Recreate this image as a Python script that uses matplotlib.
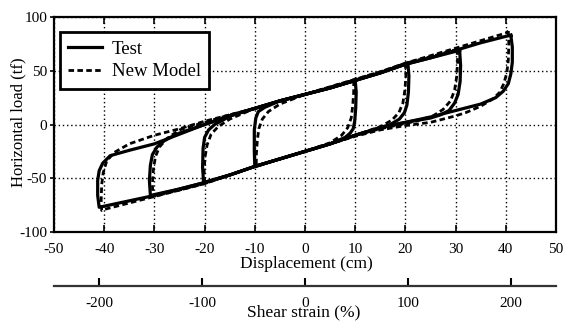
import matplotlib.pyplot as plt

plt.rcParams['font.family'] = ['Liberation Serif', 'DejaVu Serif']
plt.rcParams['axes.unicode_minus'] = False

# Test loops, displacement (cm) and horizontal load (tf), one pair per cycle
test_10_x = [10.0, 10.2, 10.1, 9.9, 9.6, 9.0, 8.0, 5.0, 0.0, -5.0, -10.0, -10.1, -10.1, -9.8, -9.3, -8.0, -5.0, 0.0, 5.0, 10.0]
test_10_y = [41, 30, 15, 3, -4, -8, -12, -18, -25, -32, -39, -25, -5, 6, 12, 16, 22, 28, 34, 41]

test_20_x = [20.5, 20.7, 20.6, 20.3, 19.8, 18.8, 17.0, 15.0, 10.0, 5.0, 0.0, -5.0, -10.0, -15.0, -20.2, -20.4, -20.3,
             -20.0, -19.2, -18.0, -16.0, -15.0, -10.0, -5.0, 0.0, 5.0, 10.0, 15.0, 20.5]
test_20_y = [57, 45, 30, 18, 11, 5, 0, -3, -10, -18, -25, -32, -39, -47, -54, -40, -22,
             -12, -5, 0, 5, 8, 15, 22, 28, 34, 41, 48, 57]

test_30_x = [30.8, 31.0, 30.9, 30.5, 29.8, 28.7, 27.0, 25.0, 20.0, 15.0, 10.0, 5.0, 0.0, -5.0, -10.0, -15.0, -20.0, -25.0,
             -30.8, -31.0, -30.8, -30.4, -29.5, -28.0, -26.0, -25.0, -20.0, -15.0, -10.0, -5.0, 0.0, 5.0, 10.0, 15.0, 20.0, 25.0, 30.8]
test_30_y = [69, 55, 40, 28, 20, 13, 9, 6, 2, -3, -10, -18, -25, -32, -39, -47, -54, -60,
             -66, -52, -38, -28, -21, -15, -10, -8, 0, 8, 15, 22, 28, 34, 41, 48, 56, 62, 69]

test_40_x = [41.0, 41.3, 41.3, 41.0, 40.5, 39.5, 38.0, 35.0, 30.0, 25.0, 20.0, 15.0, 10.0, 5.0, 0.0, -5.0, -10.0, -15.0,
             -20.0, -25.0, -30.0, -35.0, -40.0, -41.0, -41.3, -41.3, -41.0, -40.3, -38.8, -35.0, -30.0, -25.0, -20.0,
             -15.0, -10.0, -5.0, 0.0, 5.0, 10.0, 15.0, 20.0, 25.0, 30.0, 35.0, 40.0, 41.0]
test_40_y = [83, 72, 58, 47, 38, 31, 25, 19, 13, 7, 2, -3, -10, -18, -25, -32, -39, -47,
             -54, -60, -66, -71, -76, -77, -66, -52, -43, -36, -29, -24, -18, -9, 0,
             8, 15, 22, 28, 34, 41, 48, 56, 62, 69, 76, 82, 83]

# New model loops
model_10_x = [9.7, 9.7, 9.5, 9.2, 8.5, 7.3, 5.0, 0.0, -5.0, -9.7, -9.7, -9.5, -9.2, -8.5, -7.3, -5.0, 0.0, 5.0, 9.7]
model_10_y = [41, 30, 17, 6, -3, -10, -17, -25, -32, -39, -28, -15, -4, 5, 12, 19, 28, 34, 41]

model_20_x = [20.0, 20.1, 19.9, 19.5, 18.7, 17.3, 15.0, 10.0, 5.0, 0.0, -5.0, -10.0, -15.0, -20.0, -20.1, -19.9,
              -19.5, -18.7, -17.3, -15.0, -10.0, -5.0, 0.0, 5.0, 10.0, 15.0, 20.0]
model_20_y = [57, 45, 32, 20, 11, 4, -2, -10, -18, -25, -32, -39, -47, -54, -43, -30,
              -19, -9, -2, 5, 15, 22, 28, 34, 41, 48, 57]

model_30_x = [30.3, 30.4, 30.2, 29.8, 29.0, 27.5, 25.5, 22.0, 20.0, 15.0, 10.0, 5.0, 0.0, -5.0, -10.0, -15.0, -20.0, -25.0,
              -30.3, -30.4, -30.2, -29.8, -29.0, -27.5, -25.0, -20.0, -15.0, -10.0, -5.0, 0.0, 5.0, 10.0, 15.0, 20.0, 25.0, 30.3]
model_30_y = [70, 58, 44, 32, 22, 14, 8, 3, 1, -4, -10, -18, -25, -32, -39, -47, -55, -61,
              -67, -55, -42, -30, -21, -13, -5, 2, 9, 15, 22, 28, 35, 42, 49, 57, 63, 70]

model_40_x = [40.5, 40.6, 40.5, 40.2, 39.6, 38.8, 37.5, 35.0, 32.0, 30.0, 25.0, 20.0, 15.0, 10.0, 5.0, 0.0, -5.0, -10.0,
              -15.0, -20.0, -25.0, -30.0, -35.0, -40.0, -40.5, -40.6, -40.5, -40.2, -39.5, -38.0, -35.0, -30.0, -25.0,
              -20.0, -15.0, -10.0, -5.0, 0.0, 5.0, 10.0, 15.0, 20.0, 25.0, 30.0, 35.0, 40.0, 40.5]
model_40_y = [87, 75, 60, 48, 38, 30, 24, 17, 11, 8, 2, -1, -5, -11, -18, -25, -32, -39,
              -47, -55, -61, -67, -73, -79, -80, -70, -56, -45, -34, -26, -18, -10, -4,
              3, 9, 15, 22, 28, 35, 42, 49, 57, 64, 71, 78, 85, 87]

x_ticks = [-50, -40, -30, -20, -10, 0, 10, 20, 30, 40, 50]
y_ticks = [-100, -50, 0, 50, 100]
strain_ticks = [-200, -100, 0, 100, 200]
rubber_height = 20.5  # cm of rubber = 100 % shear strain

test_loops = [(test_10_x, test_10_y), (test_20_x, test_20_y), (test_30_x, test_30_y), (test_40_x, test_40_y)]
model_loops = [(model_10_x, model_10_y), (model_20_x, model_20_y), (model_30_x, model_30_y), (model_40_x, model_40_y)]

fig = plt.figure(figsize=(5.64, 3.22), dpi=100)
ax = fig.add_axes([54 / 564, 1 - 232 / 322, 502 / 564, 215 / 322])

for i, (x, y) in enumerate(test_loops):
    ax.plot(x, y, color='black', lw=2.3, solid_joinstyle='round', label='Test' if i == 0 else None, zorder=3)
for i, (x, y) in enumerate(model_loops):
    ax.plot(x, y, color='black', lw=2.0, ls=(0, (2.0, 1.2)), label='New Model' if i == 0 else None, zorder=4)

ax.set_xlim(-50, 50)
ax.set_ylim(-100, 100)
ax.set_xticks(x_ticks)
ax.set_yticks(y_ticks)
ax.grid(True, color='black', ls=(0, (1, 2)), lw=1.0)
for s in ax.spines.values():
    s.set_linewidth(1.6)
ax.tick_params(axis='x', direction='in', length=5, width=1.2, top=True, labelsize=11, pad=8)
ax.tick_params(axis='y', direction='out', length=3, width=1.2, labelsize=11, pad=2)

leg = ax.legend(loc='upper left', bbox_to_anchor=(0.012, 0.93), borderaxespad=0, fancybox=False,
                framealpha=1, edgecolor='black', fontsize=13.5, handlelength=1.8, handletextpad=0.5,
                labelspacing=0.3, borderpad=0.45)
leg.get_frame().set_linewidth(2)
leg.set_zorder(5)

# shear strain scale below the displacement axis
ax2 = fig.add_axes([54 / 564, 1 - 286 / 322, 502 / 564, 0.001])
ax2.patch.set_visible(False)
ax2.set_xlim(-50 / rubber_height * 100, 50 / rubber_height * 100)
ax2.set_xticks(strain_ticks)
ax2.set_yticks([])
for s in ['top', 'left', 'right']:
    ax2.spines[s].set_visible(False)
ax2.spines['bottom'].set_linewidth(1.6)
ax2.spines['bottom'].set_color('#333333')
ax2.tick_params(axis='x', direction='in', length=6, width=1.5, labelsize=11, pad=8)

fig.text(306 / 564, 1 - 264 / 322, 'Displacement (cm)', ha='center', va='center', fontsize=12.5)
fig.text(304 / 564, 1 - 312 / 322, 'Shear strain (%)', ha='center', va='center', fontsize=12.5)
fig.text(18 / 564, 1 - 122 / 322, 'Horizontal load (tf)', ha='center', va='center', rotation=90, fontsize=12)

fig.savefig('out.png', dpi=100)
